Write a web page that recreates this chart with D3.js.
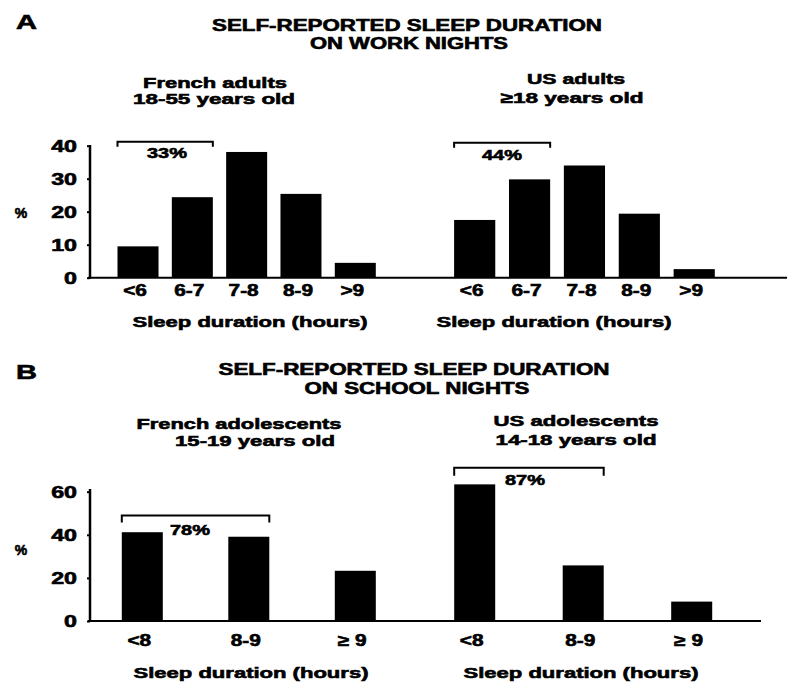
<!DOCTYPE html>
<html>
<head>
<meta charset="utf-8">
<script src="https://cdn.jsdelivr.net/npm/d3@7"></script>
<style>
  body { margin: 0; background: #fff; }
  svg { display: block; }
  text { font-family: "Liberation Sans", Arial, sans-serif; font-weight: bold; fill: #000; stroke: #000; stroke-width: 0.6px; }
</style>
</head>
<body>
<svg id="chart" width="800" height="693"></svg>
<script>
// ---- Data ----
const adultCategories = ["<6", "6-7", "7-8", "8-9", ">9"];
const frenchAdults = [9.5, 24.4, 38.1, 25.4, 4.5];
const usAdults = [17.5, 29.8, 34.0, 19.4, 2.6];
const adolCategories = ["<8", "8-9", "\u2265 9"];
const frenchAdolescents = [41.2, 39.1, 23.3];
const usAdolescents = [63.4, 25.8, 9.0];
const ticksA = [0, 10, 20, 30, 40];
const ticksB = [0, 20, 40, 60];
const bracketLabels = ["33%", "44%", "78%", "87%"];

const svg = d3.select("#chart");

function widen(sel, factor) {
  sel.each(function () {
    const l = this.getComputedTextLength();
    d3.select(this).attr("textLength", l * factor).attr("lengthAdjust", "spacingAndGlyphs");
  });
}

function txt(s, x, y, size, len, anchor) {
  const t = svg.append("text").attr("x", x).attr("y", y)
    .attr("font-size", size).attr("text-anchor", anchor || "middle").text(s);
  if (len) t.attr("textLength", len).attr("lengthAdjust", "spacingAndGlyphs");
  return t;
}

// ---- Panel titles ----
txt("A", 16, 29, 20, 21, "start");
txt("SELF-REPORTED SLEEP DURATION", 407, 31, 16, 390);
txt("ON WORK NIGHTS", 409, 49, 16, 198);
txt("French adults", 215, 88, 15, 144);
txt("18-55 years old", 214, 104, 15, 162);
txt("US adults", 576, 84, 15, 98);
txt("\u226518 years old", 572, 103, 15, 143);

txt("B", 16, 379, 20, 21, "start");
txt("SELF-REPORTED SLEEP DURATION", 414, 375, 16, 391);
txt("ON SCHOOL NIGHTS", 417, 394, 16, 225);
txt("French adolescents", 239, 429, 15, 205);
txt("15-19 years old", 255, 446, 15, 160);
txt("US adolescents", 576, 426, 15, 165);
txt("14-18 years old", 576, 445, 15, 161);

// ---- Scales ----
const yA = d3.scaleLinear().domain([0, 40]).range([277.7, 145.7]);
const yB = d3.scaleLinear().domain([0, 60]).range([621, 491.7]);

const xA1 = d3.scaleBand().domain(adultCategories).range([110.85, 382.45]).paddingInner(0.245).paddingOuter(0.1225);
const xA2 = d3.scaleBand().domain(adultCategories).range([447.25, 721.65]).paddingInner(0.25).paddingOuter(0.125);
const xB1 = d3.scaleBand().domain(adolCategories).range([89.05, 408.55]).paddingInner(0.615).paddingOuter(0.3075);
const xB2 = d3.scaleBand().domain(adolCategories).range([420.45, 745.95]).paddingInner(0.622).paddingOuter(0.311);

// ---- Y axes ----
function yAxis(scale, ticks, topY) {
  const g = svg.append("g").attr("transform", "translate(90,0)")
    .call(d3.axisLeft(scale).tickValues(ticks).tickSize(3).tickPadding(10).tickSizeOuter(0));
  g.select(".domain").remove();
  g.selectAll(".tick line").attr("stroke", "#000").attr("stroke-width", 2);
  g.selectAll(".tick text").attr("font-size", 16).attr("font-family", "Liberation Sans, Arial, sans-serif")
    .attr("font-weight", "bold").attr("fill", "#000").attr("dy", "0.36em").attr("x", -13);
  widen(g.selectAll(".tick text"), 1.45);
  g.append("line").attr("x1", 0).attr("x2", 0).attr("y1", topY).attr("y2", scale(0) + 1)
    .attr("stroke", "#000").attr("stroke-width", 2.5);
}
yAxis(yA, ticksA, 145);
yAxis(yB, ticksB, 489);

txt("%", 21, 218, 14);
txt("%", 21, 555, 14);

// ---- Baselines ----
svg.append("line").attr("x1", 88).attr("x2", 787).attr("y1", yA(0)).attr("y2", yA(0))
  .attr("stroke", "#000").attr("stroke-width", 2);
svg.append("line").attr("x1", 88).attr("x2", 761).attr("y1", yB(0)).attr("y2", yB(0))
  .attr("stroke", "#000").attr("stroke-width", 2);

// ---- Bars ----
function bars(x, y, cats, vals) {
  svg.append("g").selectAll("rect").data(vals).join("rect")
    .attr("x", (d, i) => x(cats[i]))
    .attr("width", x.bandwidth())
    .attr("y", d => y(d))
    .attr("height", d => y(0) - y(d))
    .attr("fill", "#000");
}
bars(xA1, yA, adultCategories, frenchAdults);
bars(xA2, yA, adultCategories, usAdults);
bars(xB1, yB, adolCategories, frenchAdolescents);
bars(xB2, yB, adolCategories, usAdolescents);

// ---- Category labels ----
function catLabels(x, cats, yPos) {
  const s = svg.append("g").selectAll("text").data(cats).join("text")
    .attr("x", d => x(d) + x.bandwidth() / 2 - 3)
    .attr("y", yPos)
    .attr("font-size", 16)
    .attr("text-anchor", "middle")
    .text(d => d);
  widen(s, 1.3);
}
catLabels(xA1, adultCategories, 296);
catLabels(xA2, adultCategories, 296);
catLabels(xB1, adolCategories, 646);
catLabels(xB2, adolCategories, 646);

txt("Sleep duration (hours)", 250, 327, 15, 235);
txt("Sleep duration (hours)", 554, 327, 15, 235);
txt("Sleep duration (hours)", 251, 678, 15, 235);
txt("Sleep duration (hours)", 581, 678, 15, 235);

// ---- Brackets ----
function bracket(x, y, c0, c1, level, drop, label, lx, ly) {
  const x0 = x(c0), x1 = x(c1) + x.bandwidth();
  const yy = y(level);
  svg.append("path")
    .attr("d", `M${x0},${yy + drop}V${yy}H${x1}V${yy + drop}`)
    .attr("fill", "none").attr("stroke", "#000").attr("stroke-width", 2);
  txt(label, lx, ly, 15, 40);
}
bracket(xA1, yA, "<6", "6-7", 41.2, 5, bracketLabels[0], 167, 158);
bracket(xA2, yA, "<6", "6-7", 40.9, 5, bracketLabels[1], 502, 160);
bracket(xB1, yB, "<8", "8-9", 48.9, 7, bracketLabels[2], 190, 535);
bracket(xB2, yB, "<8", "8-9", 71.1, 8, bracketLabels[3], 525, 485);
</script>
</body>
</html>
